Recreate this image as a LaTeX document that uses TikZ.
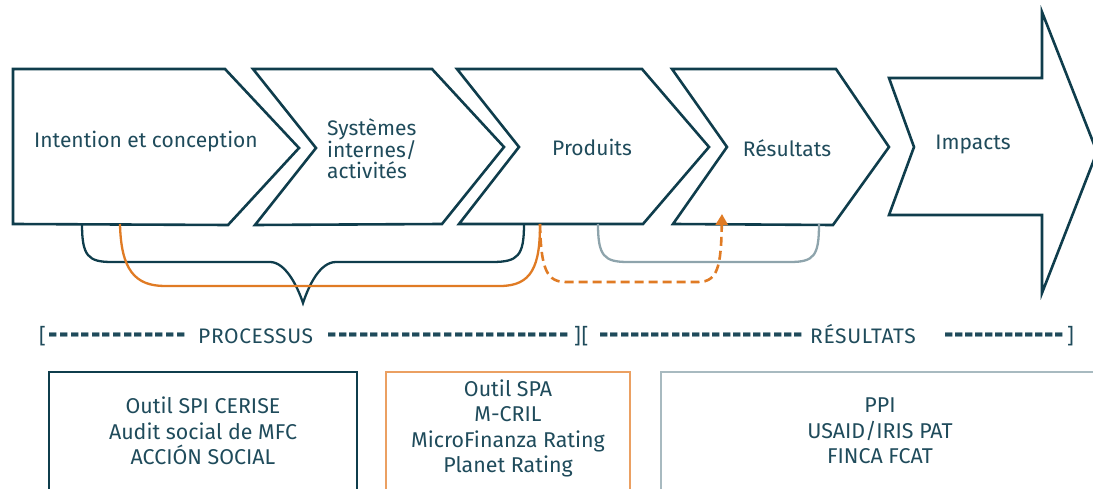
\documentclass[tikz,border=0pt]{standalone}
\usepackage{fontspec}
\setmainfont{Fira Sans}
\newfontfamily\spacedfont[LetterSpace=3]{Fira Sans}
\usetikzlibrary{arrows.meta}
\definecolor{dk}{HTML}{0F3D4C}
\definecolor{txt}{HTML}{1F4B5B}
\definecolor{org}{HTML}{E07B24}
\definecolor{orgl}{HTML}{EBA062}
\definecolor{gry}{HTML}{8EA4AC}
\definecolor{gryl}{HTML}{A8BAC0}
\newcommand\dashglyph{\raisebox{-2pt}{\scalebox{1.1}[1.6]{\bfseries -}}}
\newcommand\dashrun[2]{\hbox to #2{\cleaders\hbox to \dimexpr #2/#1\relax{\hss\dashglyph\hss}\hfill}}
\begin{document}
\begin{tikzpicture}[x=1pt,y=-1pt,
  chev/.style={draw=dk, line width=2.6pt, line join=miter, fill=white},
  lab/.style={text=txt, inner sep=0pt, font=\fontsize{21}{21.5}\selectfont},
  brk/.style={text=txt, inner sep=0pt, font=\fontsize{21}{22}\spacedfont, anchor=base west},
  boxtxt/.style={text=txt, inner sep=0pt, align=center, font=\fontsize{21.4}{25.5}\selectfont},
  brace/.style={draw=dk, line width=2.3pt},
  orgline/.style={draw=org, line width=2.3pt},
  orgdash/.style={draw=org, line width=2.6pt, dash pattern=on 9pt off 5pt},
  gryline/.style={draw=gry, line width=2.3pt}]
\useasboundingbox (0,0) rectangle (1093,489);
\clip (0,0) rectangle (1093,489);
% chevrons
\draw[chev] (13,69) -- (225,69) -- (299,148) -- (228,225) -- (13,224) -- cycle;
\draw[chev] (253,69) -- (432,69) -- (504,147) -- (442,224) -- (255,225) -- (316,148) -- cycle;
\draw[chev] (457,69) -- (642,69) -- (709,147) -- (643,224) -- (459,224) -- (519,147) -- cycle;
\draw[chev] (672,69) -- (836,69) -- (889,147) -- (833,225) -- (673,224) -- (727,147) -- cycle;
\draw[chev] (889,78) -- (1042,78) -- (1042,12) -- (1097,152) -- (1042,293) -- (1042,215) -- (889,215) -- (914,147) -- cycle;
% labels
\node[lab] (intent) at (146,142) {Intention et conception};
\node[lab, align=left, anchor=west] (sys) at (327,149) {Systèmes\\internes/\\activités};
\node[lab] (prod) at (592,147) {Produits};
\node[lab] (res) at (787,148) {Résultats};
\node[lab] (imp) at (973,145) {Impacts};
% anchor coordinates
\coordinate (b1) at (82,224);
\coordinate (o1) at (120,224);
\coordinate (b2) at (524,224);
\coordinate (o2) at (540,224);
\coordinate (g1) at (598,224);
\coordinate (g2) at (819,224);
\coordinate (a2) at (722,214);
% connectors
\draw[brace] (b1) .. controls (82,256) and (88,262) .. (112,262) -- (270,262)
  .. controls (285,262) and (297,285) .. (303,303)
  .. controls (309,285) and (320,262) .. (336,262) -- (492,262)
  .. controls (518,262) and (524,256) .. (b2);
\draw[orgline] (o1) .. controls (121,270) and (135,286) .. (165,286) -- (500,286)
  .. controls (532,286) and (540,266) .. (o2);
\draw[orgdash, -{Triangle[width=12pt,length=11pt]}] (o2) .. controls (541,270) and (547,282) .. (566,282) -- (698,282)
  .. controls (718,282) and (721,266) .. (a2);
\draw[gryline] (g1) .. controls (598,256) and (604,262) .. (628,262) -- (790,262)
  .. controls (814,262) and (819,256) .. (g2);
% bracket line
\node[brk] (lb) at (39,343) {[};
\node[brk] (d1) at (48,343) {\dashrun{13}{138pt}};
\node[brk] (proc) at (198,343) {PROCESSUS};
\node[brk] (d2) at (327,343) {\dashrun{23}{242pt}};
\node[brk] (mid) at (574,343) {][};
\node[brk] (d3) at (599,343) {\dashrun{20}{204pt}};
\node[brk] (resu) at (810,343) {RÉSULTATS};
\node[brk] (d4) at (944,343) {\dashrun{12}{120pt}};
\node[brk] (rb) at (1067,343) {]};
% boxes
\draw[draw=dk, line width=1.5pt] (49,520) -- (49,372) -- (357,372) -- (357,520);
\draw[draw=orgl, line width=1.5pt] (386,520) -- (386,372) -- (630,372) -- (630,520);
\draw[draw=gryl, line width=1.5pt] (661,520) -- (661,372) -- (1100,372);
\node[boxtxt] (t1) at (203,431) {Outil SPI CERISE\\Audit social de MFC\\ACCIÓN SOCIAL};
\node[boxtxt] (t2) at (508,428.5) {Outil SPA\\M-CRIL\\MicroFinanza Rating\\Planet Rating};
\node[boxtxt] (t3) at (880,431) {PPI\\USAID/IRIS PAT\\FINCA FCAT};
\end{tikzpicture}
\end{document}
